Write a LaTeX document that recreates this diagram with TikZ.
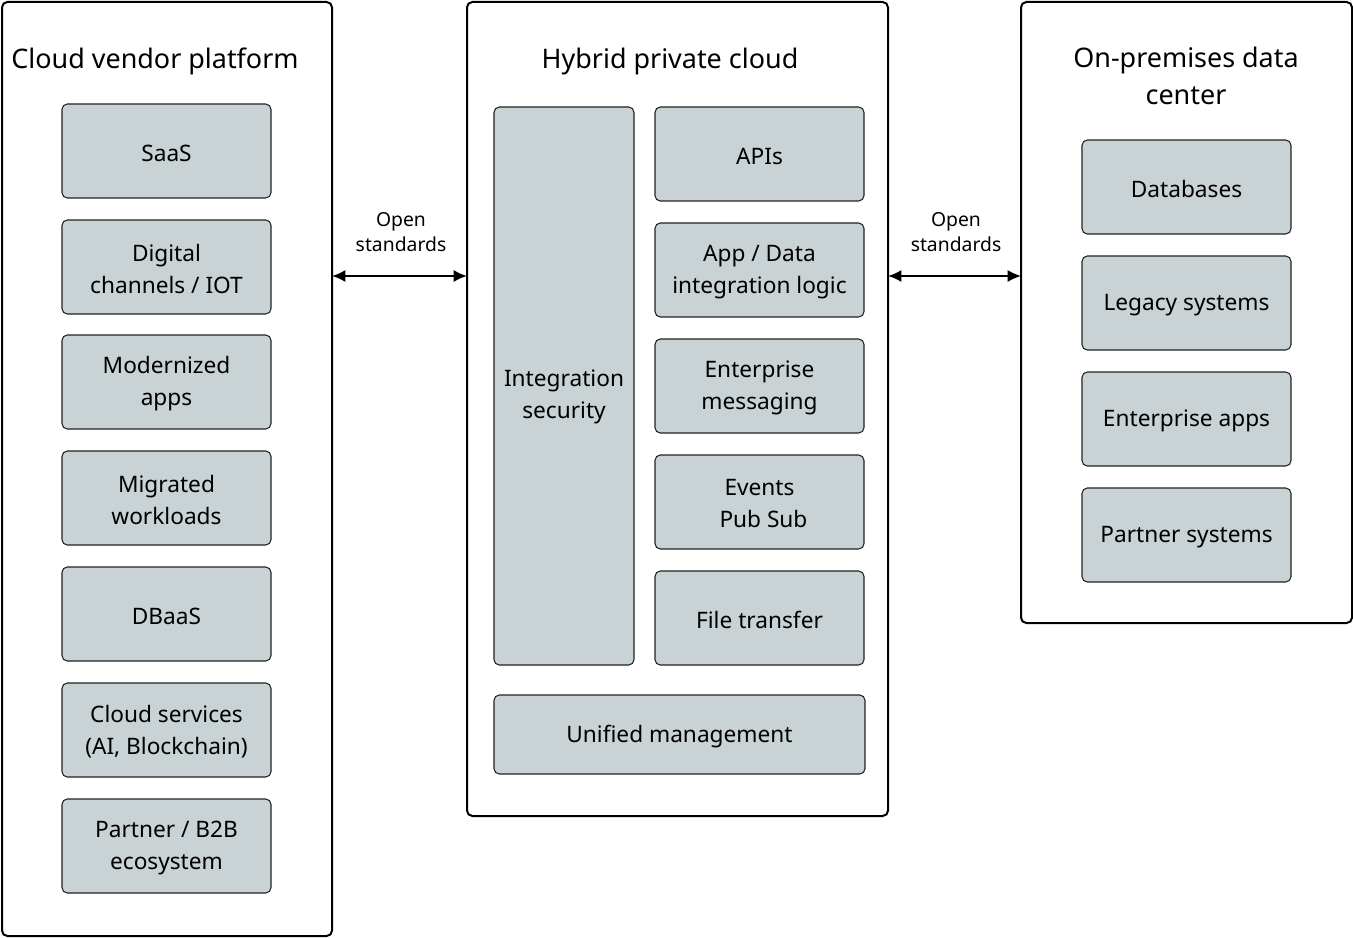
\documentclass[tikz,border=0pt]{standalone}
\usepackage{fontspec}
\setmainfont{Noto Sans}
\usetikzlibrary{arrows.meta}
\definecolor{boxfill}{HTML}{C9D2D4}
\definecolor{boxline}{HTML}{222222}
\tikzset{
  panel/.style={draw=black, line width=1.5pt, rounded corners=4pt, fill=white},
  item/.style={draw=boxline, line width=0.8pt, rounded corners=4pt, fill=boxfill},
  itxt/.style={align=center, font=\fontsize{17}{24}\selectfont},
  ttl/.style={align=center, font=\fontsize{20.2}{28}\selectfont},
  lbl/.style={align=center, font=\fontsize{14.5}{18.5}\selectfont},
  conn/.style={line width=1.3pt, {Latex[length=10pt,width=9pt]}-{Latex[length=10pt,width=9pt]}}
}
\begin{document}
\begin{tikzpicture}[x=0.75pt,y=-0.75pt]
\useasboundingbox[fill=white] (0,0) rectangle (1353,938);
% panels
\draw[panel] (2,2) rectangle (332,936);
\draw[panel] (467,2) rectangle (888,816);
\draw[panel] (1021,2) rectangle (1352,623);
\coordinate (Lr) at (332,276);
\coordinate (Ml) at (467,276);
\coordinate (Mr) at (888,276);
\coordinate (Rl) at (1021,276);
% titles
\node[ttl] (t1) at (155,61) {Cloud vendor platform};
\node[ttl] (t2) at (670,61) {Hybrid private cloud};
\node[ttl] (t3) at (1186,76) {On-premises data\\center};
% left items
\def\itemL#1#2#3#4{\draw[item] (62,#2) rectangle (271,#3); \node[itxt] (#1) at (166.5,{(#2+#3)/2+2}) {#4};}
\itemL{saas}{104}{198}{SaaS}
\itemL{dig}{220}{314}{Digital\\channels / IOT}
\itemL{mod}{335}{429}{Modernized\\apps}
\itemL{mig}{451}{545}{Migrated\\workloads}
\itemL{dbaas}{567}{661}{DBaaS}
\itemL{cs}{683}{777}{Cloud services\\(AI, Blockchain)}
\itemL{pb}{799}{893}{Partner / B2B\\ecosystem}
% middle items
\draw[item] (494,107) rectangle (634,665);
\node[itxt] (isec) at (564,397) {Integration\\security};
\def\itemM#1#2#3#4{\draw[item] (655,#2) rectangle (864,#3); \node[itxt] (#1) at (759.5,{(#2+#3)/2+2}) {#4};}
\itemM{api}{107}{201}{APIs}
\itemM{adi}{223}{317}{App / Data\\integration logic}
\itemM{em}{339}{433}{Enterprise\\messaging}
\itemM{ev}{455}{549}{Events\\\hspace*{0.35em}Pub Sub}
\itemM{ft}{571}{665}{File transfer}
\draw[item] (494,695) rectangle (865,774);
\node[itxt] (um) at (679.5,737) {Unified management};
% right items
\def\itemR#1#2#3#4{\draw[item] (1082,#2) rectangle (1291,#3); \node[itxt] (#1) at (1186.5,{(#2+#3)/2+2}) {#4};}
\itemR{db}{140}{234}{Databases}
\itemR{leg}{256}{350}{Legacy systems}
\itemR{ea}{372}{466}{Enterprise apps}
\itemR{ps}{488}{582}{Partner systems}
% connectors
\draw[conn] (Lr) -- (Ml);
\draw[conn] (Mr) -- (Rl);
\node[lbl] (o1) at (401,232) {Open\\standards};
\node[lbl] (o2) at (956,232) {Open\\standards};
\end{tikzpicture}
\end{document}
